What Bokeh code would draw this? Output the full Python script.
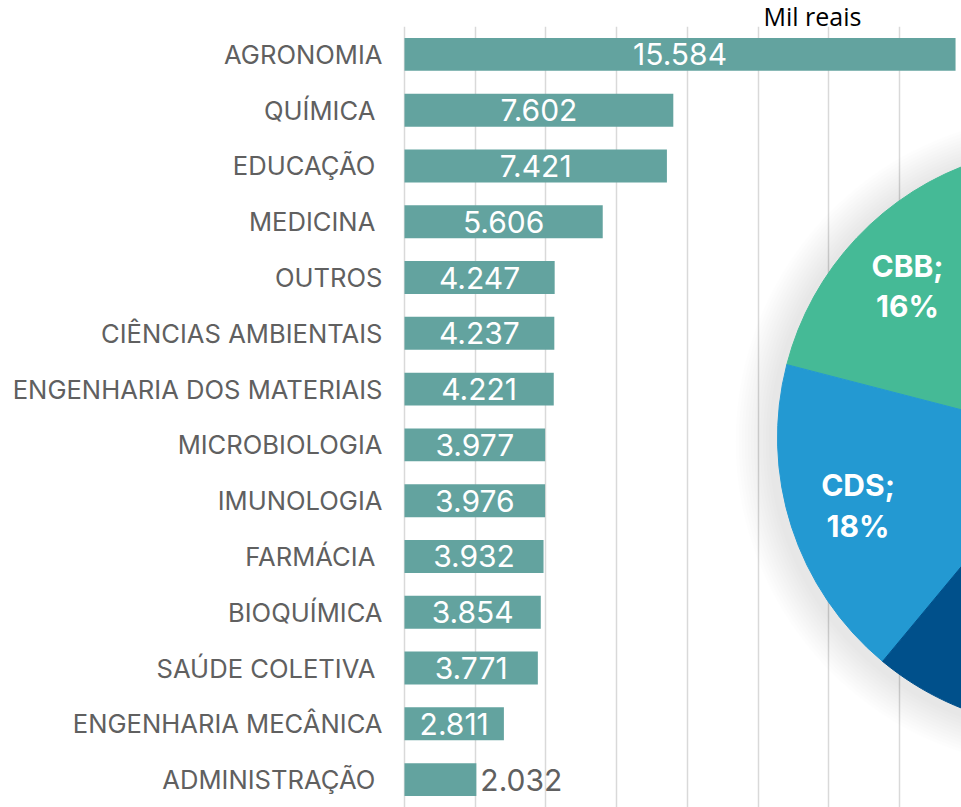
import numpy as np
from bokeh.plotting import figure
from bokeh.models import ColumnDataSource, Range1d, FixedTicker, Title
from bokeh.core.properties import value
from bokeh.embed import file_html
from bokeh.resources import INLINE

# ---------------- data ----------------
categories = [
    "AGRONOMIA", "QUÍMICA ", "EDUCAÇÃO ", "MEDICINA ", "OUTROS",
    "CIÊNCIAS AMBIENTAIS", "ENGENHARIA DOS MATERIAIS", "MICROBIOLOGIA",
    "IMUNOLOGIA", "FARMÁCIA ", "BIOQUÍMICA", "SAÚDE COLETIVA ",
    "ENGENHARIA MECÂNICA", "ADMINISTRAÇÃO ",
]
values = [15584, 7602, 7421, 5606, 4247, 4237, 4221, 3977, 3976, 3932,
          3854, 3771, 2811, 2032]
grid_ticks = [0, 2000, 4000, 6000, 8000, 10000, 12000, 14000]
unit_label = "Mil reais"

pie_labels = ["CBB", "CDS", "Demais"]
pie_pct = [16, 18, 66]
pie_colors = ["#45ba96", "#2399d2", "#00508b"]

# ---------------- style / layout ----------------
BAR = "#63a39f"
GRAY = "#606060"
W, H = 961, 807
PX = 0.03536          # screen px per unit
FRAME_LEFT = 400
FRAME_TOP = 26
x_start = -4 / PX
x_end = x_start + (W - FRAME_LEFT) / PX
n = len(categories)
ypos = [n - 1 - i for i in range(n)]

p = figure(width=W, height=H, output_backend="svg", toolbar_location=None,
           y_range=Range1d(-0.5, n - 0.5),
           x_range=Range1d(x_start, x_end),
           x_axis_location=None,
           min_border_left=FRAME_LEFT, min_border_top=FRAME_TOP,
           min_border_right=0, min_border_bottom=0)
p.title = Title(text=unit_label, align="left", offset=763 - FRAME_LEFT,
                standoff=-12, text_font="Open Sans", text_font_size="25px",
                text_font_style="normal", text_color="black")
p.outline_line_color = None
p.background_fill_color = "white"
p.border_fill_color = "white"

p.extra_x_ranges = {"px": Range1d(FRAME_LEFT, W)}
p.extra_y_ranges = {"py": Range1d(-H, -FRAME_TOP)}

p.ygrid.visible = False
p.xgrid.ticker = FixedTicker(ticks=grid_ticks)
p.xgrid.grid_line_color = "#d9d9d9"
p.xgrid.grid_line_width = 1.5

ax = p.yaxis[0]
ax.ticker = FixedTicker(ticks=ypos)
ax.major_label_overrides = {y: c for y, c in zip(ypos, categories)}
ax.axis_line_color = None
ax.major_tick_line_color = None
ax.minor_tick_line_color = None
ax.major_label_standoff = 12
ax.major_label_text_font = "Inter"
ax.major_label_text_font_size = "25.6px"
ax.major_label_text_color = GRAY

labels = [f"{v:,}".replace(",", ".") for v in values]
src = ColumnDataSource(dict(y=ypos, val=values, lbl=labels))
p.hbar(y="y", left=0, right="val", height=0.59, source=src,
       fill_color=BAR, line_color=None)

inside = [i for i, v in enumerate(values) if v >= 2500]
outside = [i for i, v in enumerate(values) if v < 2500]
src_in = ColumnDataSource(dict(y=[ypos[i] for i in inside],
                               x=[values[i] / 2 for i in inside],
                               lbl=[labels[i] for i in inside]))
src_out = ColumnDataSource(dict(y=[ypos[i] for i in outside],
                                x=[values[i] for i in outside],
                                lbl=[labels[i] for i in outside]))
p.text(x="x", y="y", text="lbl", source=src_in, text_align="center",
       text_baseline="middle", text_color="white",
       text_font=value("Inter"), text_font_size="30px")
p.text(x="x", y="y", text="lbl", source=src_out, text_align="left",
       text_baseline="middle", text_color=GRAY, x_offset=4,
       text_font=value("Inter"), text_font_size="30px")

# ---------------- pie (partly outside the page) ----------------
CX, CY, R = 1068, -437, 291
START_DEG = 107.9
ang = np.cumsum([0] + [v * 3.6 for v in pie_pct])
starts = np.radians(START_DEG + ang[:-1])
ends = np.radians(START_DEG + ang[1:])

# soft shadow
radii = [R + k * 3 for k in range(1, 13)]
p.circle(x=[CX - 6] * len(radii), y=[CY - 4] * len(radii), radius=radii,
         radius_units="screen", fill_color="black", fill_alpha=0.007,
         line_color=None, x_range_name="px", y_range_name="py")

pie_src = ColumnDataSource(dict(start=starts, end=ends, color=pie_colors))
p.wedge(x=CX, y=CY, radius=R, radius_units="screen", start_angle="start",
        end_angle="end", fill_color="color", line_color="color",
        source=pie_src, x_range_name="px", y_range_name="py")

mids = (starts + ends) / 2
vis = [0, 1]
lab_src = ColumnDataSource(dict(
    x=[CX + 0.76 * R * np.cos(mids[i]) for i in vis],
    y=[CY + 0.76 * R * np.sin(mids[i]) for i in vis],
    t=[f"{pie_labels[i]};\n{pie_pct[i]}%" for i in vis]))
p.text(x="x", y="y", text="t", source=lab_src, x_range_name="px",
       y_range_name="py", text_align="center", text_baseline="middle",
       text_color="white", text_font=value("Inter"), text_font_style="bold",
       text_font_size="30px", text_line_height=1.12)

open("out.html", "w").write(file_html(p, INLINE))
